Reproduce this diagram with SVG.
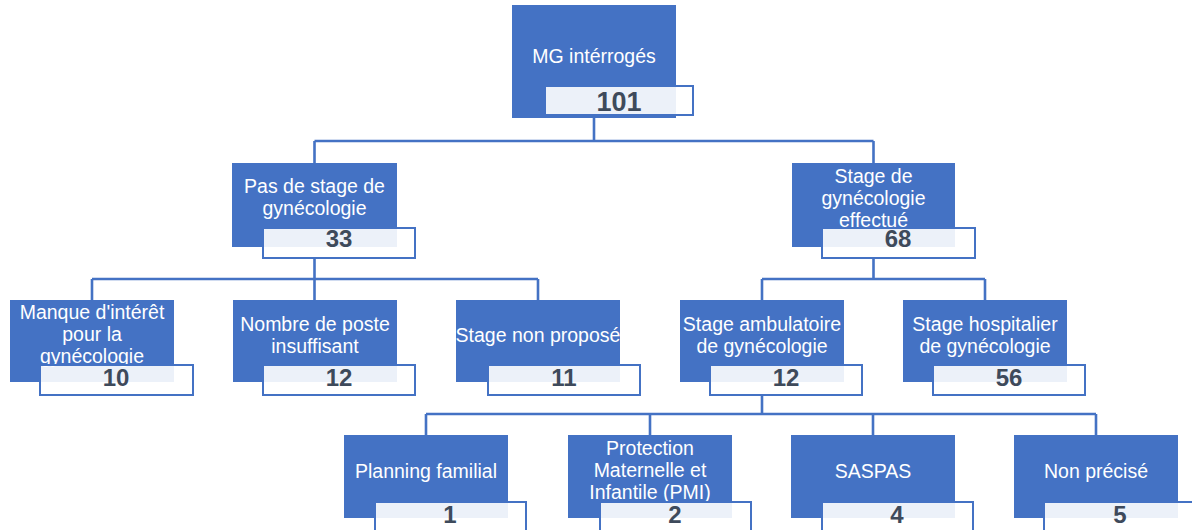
<svg xmlns="http://www.w3.org/2000/svg" width="1192" height="530" viewBox="0 0 1192 530">
<style>
.box{fill:#4472C4}
.t{font-family:"Liberation Sans",Arial,sans-serif;font-size:19.5px;fill:#ffffff;text-anchor:middle}
.lab{fill:#ffffff;fill-opacity:0.9;stroke:#4472C4;stroke-width:2}
.n{font-family:"Liberation Sans",Arial,sans-serif;font-size:24px;font-weight:bold;fill:#3E4A5B;text-anchor:middle}
.c{fill:none;stroke:#4472C4;stroke-width:2.6}
</style>
<g id="connectors">
<path class="c" d="M594,118V141M314.5,141H873.5M314.5,141V163M873.5,141V163"/>
<path class="c" d="M314.5,258V279M92,279H538M92,279V300M314.5,279V300M538,279V300"/>
<path class="c" d="M873.5,258V279M762,279H985M762,279V300M985,279V300"/>
<path class="c" d="M762,395V414M426,414H1096M426,414V435M650,414V435M873,414V435M1096,414V435"/>
</g>
<g id="n-mg">
<rect class="box" x="512" y="5" width="164" height="113"/>
<text class="t" x="594" y="63">MG intérrogés</text>
<rect class="lab" x="545" y="86" width="148" height="29"/>
<text class="n" x="619" y="111" style="font-size:27px">101</text>
</g>
<g id="n-pas">
<rect class="box" x="232" y="163" width="165" height="84"/>
<text class="t" x="314.5" y="193">Pas de stage de</text>
<text class="t" x="314.5" y="215">gynécologie</text>
<rect class="lab" x="263" y="228" width="152" height="30"/>
<text class="n" x="339" y="247">33</text>
</g>
<g id="n-stage">
<rect class="box" x="792" y="163" width="163" height="84"/>
<text class="t" x="873.5" y="183">Stage de</text>
<text class="t" x="873.5" y="205">gynécologie</text>
<text class="t" x="873.5" y="227">effectué</text>
<rect class="lab" x="822" y="228" width="153" height="30"/>
<text class="n" x="898" y="247">68</text>
</g>
<g id="n-manque">
<rect class="box" x="10" y="300" width="164" height="82"/>
<text class="t" x="92" y="319">Manque d'intérêt</text>
<text class="t" x="92" y="341">pour la</text>
<text class="t" x="92" y="363">gynécologie</text>
<rect class="lab" x="40" y="365" width="153" height="30"/>
<text class="n" x="116" y="386">10</text>
</g>
<g id="n-nombre">
<rect class="box" x="233" y="300" width="164" height="82"/>
<text class="t" x="315" y="331">Nombre de poste</text>
<text class="t" x="315" y="353">insuffisant</text>
<rect class="lab" x="263" y="365" width="152" height="30"/>
<text class="n" x="339" y="386">12</text>
</g>
<g id="n-nonprop">
<rect class="box" x="456" y="300" width="164" height="82"/>
<text class="t" x="538" y="342">Stage non proposé</text>
<rect class="lab" x="488" y="365" width="152" height="30"/>
<text class="n" x="564" y="386">11</text>
</g>
<g id="n-amb">
<rect class="box" x="680" y="300" width="164" height="82"/>
<text class="t" x="762" y="331">Stage ambulatoire</text>
<text class="t" x="762" y="353">de gynécologie</text>
<rect class="lab" x="710" y="365" width="152" height="30"/>
<text class="n" x="786" y="386">12</text>
</g>
<g id="n-hosp">
<rect class="box" x="903" y="300" width="164" height="82"/>
<text class="t" x="985" y="331">Stage hospitalier</text>
<text class="t" x="985" y="353">de gynécologie</text>
<rect class="lab" x="933" y="365" width="152" height="30"/>
<text class="n" x="1009" y="386">56</text>
</g>
<g id="n-planning">
<rect class="box" x="344" y="435" width="164" height="83"/>
<text class="t" x="426" y="478">Planning familial</text>
<rect class="lab" x="375" y="502" width="151" height="30"/>
<text class="n" x="450" y="523">1</text>
</g>
<g id="n-pmi">
<rect class="box" x="568" y="435" width="164" height="83"/>
<text class="t" x="650" y="455">Protection</text>
<text class="t" x="650" y="477">Maternelle et</text>
<text class="t" x="650" y="499">Infantile (PMI)</text>
<rect class="lab" x="600" y="502" width="151" height="30"/>
<text class="n" x="675" y="523">2</text>
</g>
<g id="n-saspas">
<rect class="box" x="791" y="435" width="164" height="83"/>
<text class="t" x="873" y="478">SASPAS</text>
<rect class="lab" x="822" y="502" width="151" height="30"/>
<text class="n" x="897" y="523">4</text>
</g>
<g id="n-nonprec">
<rect class="box" x="1014" y="435" width="164" height="83"/>
<text class="t" x="1096" y="478">Non précisé</text>
<rect class="lab" x="1044" y="502" width="151" height="30"/>
<text class="n" x="1120" y="523">5</text>
</g>
</svg>
